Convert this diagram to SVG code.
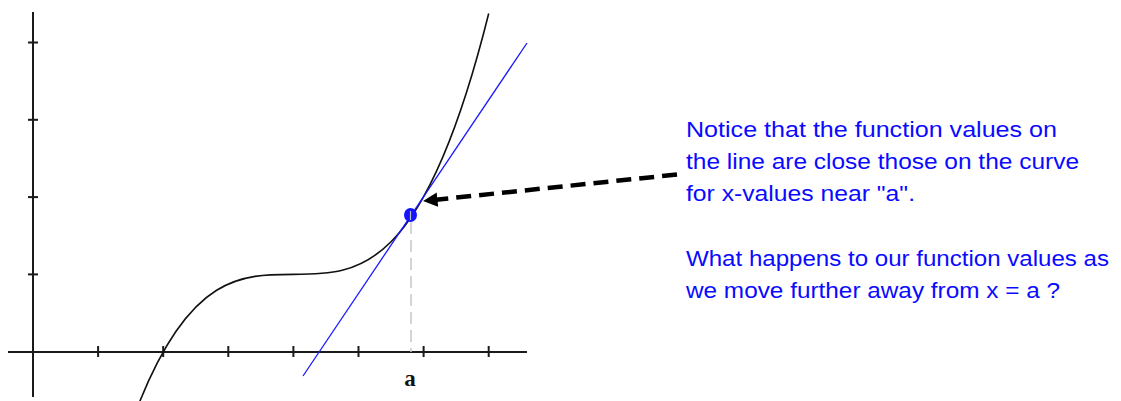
<svg xmlns="http://www.w3.org/2000/svg" width="1121" height="401" viewBox="0 0 1121 401">
<defs>
<style>
.axis{stroke:#1a1a1a;stroke-width:2;fill:none}
.tick{stroke:#1a1a1a;stroke-width:2}
.curve{stroke:#111;stroke-width:1.6;fill:none}
.tangent{stroke:#1a1aff;stroke-width:1.3}
.guide{stroke:#c8c8c8;stroke-width:1.5;stroke-dasharray:12 6}
.note{font-family:"Comic Sans MS","Liberation Sans",sans-serif;font-size:22px;fill:#0a0aff}
.lab{font-family:"Liberation Serif",serif;font-weight:bold;font-size:23px;fill:#111}
</style>
<marker id="ah" viewBox="0 0 10 10" refX="1" refY="5" markerWidth="3.2" markerHeight="3.2" orient="auto-start-reverse" markerUnits="strokeWidth">
<path d="M0,0 L10,5 L0,10 Z" fill="#000"/>
</marker>
</defs>
<rect width="1121" height="401" fill="#fff"/>
<g id="axes">
<line class="axis" x1="8" y1="352" x2="527" y2="352"/>
<line class="axis" x1="33" y1="12" x2="33" y2="397"/>
<g class="tick">
<line x1="98.1" y1="346" x2="98.1" y2="357"/>
<line x1="163.2" y1="346" x2="163.2" y2="357"/>
<line x1="228.3" y1="346" x2="228.3" y2="357"/>
<line x1="293.4" y1="346" x2="293.4" y2="357"/>
<line x1="358.5" y1="346" x2="358.5" y2="357"/>
<line x1="423.6" y1="346" x2="423.6" y2="357"/>
<line x1="488.7" y1="346" x2="488.7" y2="357"/>
<line x1="28" y1="274.4" x2="38" y2="274.4"/>
<line x1="28" y1="197.1" x2="38" y2="197.1"/>
<line x1="28" y1="119.8" x2="38" y2="119.8"/>
<line x1="28" y1="42.5" x2="38" y2="42.5"/>
</g>
</g>
<g id="guide">
<line class="guide" x1="411" y1="222" x2="411" y2="352"/>
</g>
<g id="curve">
<path class="curve" d="M139.8,401.4 C256.1,113 372.4,479.6 488.7,13.5"/>
</g>
<g id="tangent">
<line class="tangent" x1="303" y1="376" x2="527" y2="43"/>
</g>
<g id="point">
<ellipse cx="410.5" cy="215" rx="6.5" ry="7" fill="#1414ff"/>
<line x1="410.5" y1="211" x2="410.5" y2="220" stroke="#bbb" stroke-width="1.2"/>
</g>
<g id="label-a">
<text class="lab" x="410" y="386" text-anchor="middle">a</text>
</g>
<g id="connectors">
<line x1="677" y1="174.5" x2="436" y2="199.7" stroke="#000" stroke-width="4.5" stroke-dasharray="15 8" marker-end="url(#ah)"/>
</g>
<g id="note">
<text class="note" x="686" y="137" textLength="371" lengthAdjust="spacingAndGlyphs">Notice that the function values on</text>
<text class="note" x="686" y="169" textLength="393" lengthAdjust="spacingAndGlyphs">the line are close those on the curve</text>
<text class="note" x="686" y="201" textLength="229" lengthAdjust="spacingAndGlyphs">for x-values near "a".</text>
<text class="note" x="686" y="266" textLength="423" lengthAdjust="spacingAndGlyphs">What happens to our function values as</text>
<text class="note" x="686" y="298" textLength="374" lengthAdjust="spacingAndGlyphs">we move further away from x = a ?</text>
</g>
</svg>
